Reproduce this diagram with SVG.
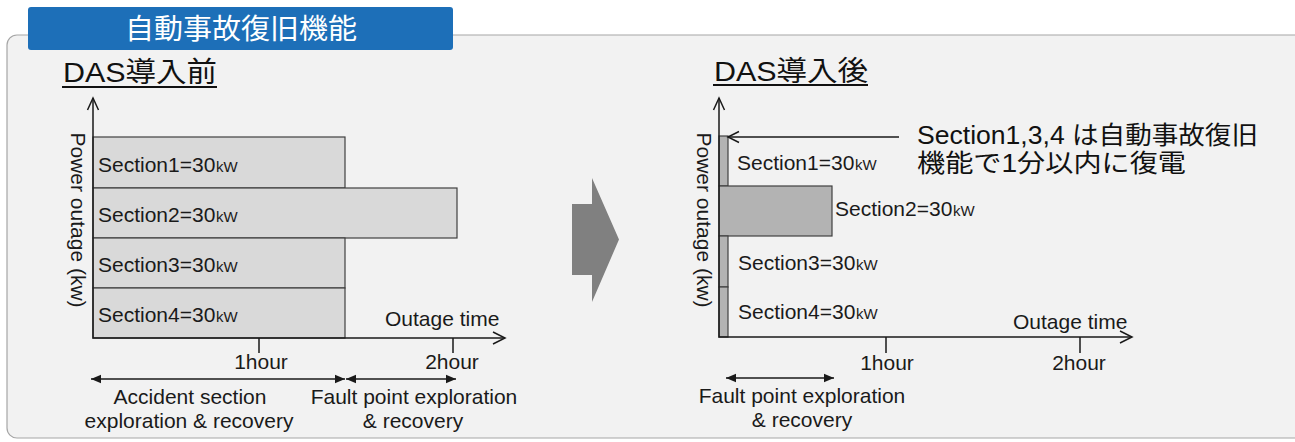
<svg xmlns="http://www.w3.org/2000/svg" width="1295" height="442" viewBox="0 0 1295 442">
<defs>
<style>
.t{font-family:"Liberation Sans","Noto Sans CJK JP",sans-serif;fill:#1a1a1a;font-size:21px}
.j{font-family:"Liberation Sans","Noto Sans CJK JP",sans-serif;fill:#111}
.k{font-family:"Liberation Sans",sans-serif;fill:#1a1a1a;font-size:15px}
.ax{stroke:#1a1a1a;stroke-width:1.5;fill:none}
.bl{fill:#d9d9d9;stroke:#404040;stroke-width:1.2}
.br{fill:#b3b3b3;stroke:#404040;stroke-width:1.2}
.da{stroke:#1a1a1a;stroke-width:1.5;fill:none;marker-start:url(#fh);marker-end:url(#fh)}
</style>
<marker id="fh" viewBox="0 0 10 10" refX="10" refY="5" markerWidth="10" markerHeight="10" markerUnits="userSpaceOnUse" orient="auto-start-reverse">
<path d="M0,0.8 L10,5 L0,9.2 Z" fill="#1a1a1a"/>
</marker>
</defs>
<rect width="1295" height="442" fill="#ffffff"/>
<g id="panel">
<rect x="7" y="35" width="1300" height="403" rx="10" fill="#f2f2f2" stroke="#a6a6a6" stroke-width="1.2"/>
</g>
<g id="title">
<rect x="28" y="7" width="425" height="43" rx="3" fill="#1d6fb8"/>
<text x="241" y="39" text-anchor="middle" class="j" style="fill:#fff" font-size="28" textLength="232" lengthAdjust="spacingAndGlyphs">自動事故復旧機能</text>
</g>
<g id="before-heading">
<text x="63" y="82" class="j" font-size="28" textLength="154" lengthAdjust="spacingAndGlyphs">DAS導入前</text>
<line x1="62" y1="87" x2="217" y2="87" stroke="#111" stroke-width="2"/>
</g>
<g id="after-heading">
<text x="714" y="81" class="j" font-size="28" textLength="154" lengthAdjust="spacingAndGlyphs">DAS導入後</text>
<line x1="713" y1="85" x2="868" y2="85" stroke="#111" stroke-width="2"/>
</g>
<g id="before-bars">
<rect class="bl" x="93" y="137" width="252" height="51"/>
<rect class="bl" x="93" y="188" width="364" height="50"/>
<rect class="bl" x="93" y="238" width="252" height="50"/>
<rect class="bl" x="93" y="288" width="252" height="50"/>
<text class="t" x="98" y="172">Section1=30</text>
<text class="k" x="216" y="172">kW</text>
<text class="t" x="98" y="222">Section2=30</text>
<text class="k" x="216" y="222">kW</text>
<text class="t" x="98" y="272">Section3=30</text>
<text class="k" x="216" y="272">kW</text>
<text class="t" x="98" y="322">Section4=30</text>
<text class="k" x="216" y="322">kW</text>
</g>
<g id="after-bars">
<rect class="br" x="719" y="136" width="9" height="50"/>
<rect class="br" x="719" y="186" width="113" height="50"/>
<rect class="br" x="719" y="236" width="9" height="51"/>
<rect class="br" x="719" y="287" width="9" height="50"/>
<text class="t" x="737" y="170">Section1=30</text>
<text class="k" x="855" y="170">kW</text>
<text class="t" x="835" y="216">Section2=30</text>
<text class="k" x="953" y="216">kW</text>
<text class="t" x="738" y="270">Section3=30</text>
<text class="k" x="856" y="270">kW</text>
<text class="t" x="738" y="319">Section4=30</text>
<text class="k" x="856" y="319">kW</text>
</g>
<g id="before-axes">
<path class="ax" d="M93,98 V338 H505"/>
<path class="ax" d="M87.5,110 L93,98 L98.5,110"/>
<path class="ax" d="M493,332 L505,338 L493,344"/>
<path class="ax" d="M259,338 V353 M453,338 V353"/>
<text class="t" transform="translate(71,220) rotate(90)" text-anchor="middle">Power outage (kw)</text>
<text class="t" x="385" y="326">Outage time</text>
<text class="t" x="261" y="369" text-anchor="middle">1hour</text>
<text class="t" x="452" y="369" text-anchor="middle">2hour</text>
</g>
<g id="after-axes">
<path class="ax" d="M719,98 V337 H1132"/>
<path class="ax" d="M713.5,110 L719,98 L724.5,110"/>
<path class="ax" d="M1120,331 L1132,337 L1120,343"/>
<path class="ax" d="M886,337 V353 M1080,337 V353"/>
<text class="t" transform="translate(697,220) rotate(90)" text-anchor="middle">Power outage (kw)</text>
<text class="t" x="1013" y="329">Outage time</text>
<text class="t" x="887" y="370" text-anchor="middle">1hour</text>
<text class="t" x="1079" y="370" text-anchor="middle">2hour</text>
</g>
<g id="connectors">
<line class="da" x1="91" y1="379" x2="345" y2="379"/>
<line class="da" x1="346" y1="379" x2="456" y2="379"/>
<line class="da" x1="726" y1="378" x2="834" y2="378"/>
<line class="ax" x1="728" y1="137" x2="899" y2="137"/>
<path class="ax" d="M739,131.5 L728,137 L739,142.5"/>
</g>
<g id="before-phase-labels">
<text class="t" text-anchor="middle"><tspan x="190" y="404">Accident section</tspan><tspan x="189" y="428">exploration &amp; recovery</tspan></text>
<text class="t" text-anchor="middle"><tspan x="414" y="404">Fault point exploration</tspan><tspan x="413" y="428">&amp; recovery</tspan></text>
</g>
<g id="after-phase-labels">
<text class="t" text-anchor="middle"><tspan x="802" y="403">Fault point exploration</tspan><tspan x="802" y="427">&amp; recovery</tspan></text>
</g>
<g id="annotation">
<text class="j" font-size="25"><tspan x="917" y="144" textLength="341" lengthAdjust="spacingAndGlyphs">Section1,3,4 は自動事故復旧</tspan><tspan x="917" y="172" textLength="269" lengthAdjust="spacingAndGlyphs">機能で1分以内に復電</tspan></text>
</g>
<g id="transition-arrow">
<path d="M572,204 H592 V178 L619,239.5 L592,302 V275 H572 Z" fill="#808080"/>
</g>
</svg>
